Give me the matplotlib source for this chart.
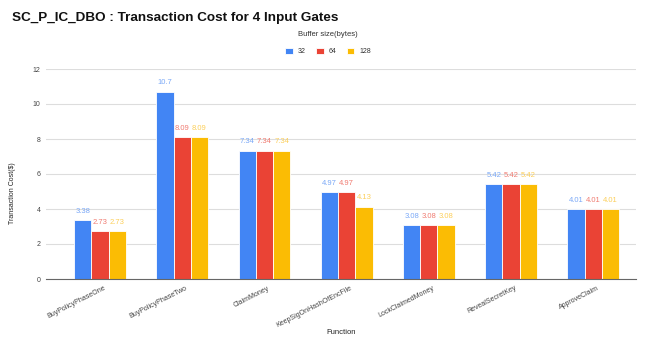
import matplotlib.pyplot as plt
import numpy as np

functions = ["BuyPolicyPhaseOne", "BuyPolicyPhaseTwo", "ClaimMoney", "KeepSigOnHashOfEncFile",
             "LockClaimedMoney", "RevealSecretKey", "ApproveClaim"]
buffer_sizes = ["32", "64", "128"]
cost_32 = [3.38, 10.7, 7.34, 4.97, 3.08, 5.42, 4.01]
cost_64 = [2.73, 8.09, 7.34, 4.97, 3.08, 5.42, 4.01]
cost_128 = [2.73, 8.09, 7.34, 4.13, 3.08, 5.42, 4.01]

colors = ["#4285F4", "#EA4335", "#FBBC04"]
label_colors = ["#7BA9F7", "#F07C72", "#FCCF5A"]

plt.rcParams["font.family"] = ["Liberation Sans", "DejaVu Sans"]

fig = plt.figure(figsize=(6.49, 3.37), dpi=100)
ax = fig.add_axes([46 / 649, 1 - 279 / 337, 590 / 649, 210 / 337])

index = np.arange(len(functions))
bar_width = 0.21
series = [cost_32, cost_64, cost_128]
for i, vals in enumerate(series):
    pos = index + (i - 1) * bar_width
    ax.bar(pos, vals, bar_width, color=colors[i], edgecolor="white", linewidth=0.6,
           label=buffer_sizes[i], zorder=3)
    for x, v in zip(pos, vals):
        ax.text(x, v + 0.3, f"{v:g}", ha="center", va="bottom", fontsize=5.5,
                color=label_colors[i])

ax.set_xlim(-0.657, 6.52)
ax.set_ylim(0, 12)
ax.set_yticks(range(0, 13, 2))
ax.grid(axis="y", color="#dddddd", linewidth=0.8, zorder=0)
for s in ["top", "right", "left"]:
    ax.spines[s].set_visible(False)
ax.spines["bottom"].set_color("#666666")
ax.spines["bottom"].set_zorder(4)
ax.tick_params(axis="both", length=0, labelsize=5, colors="#444444")
ax.tick_params(axis="y", pad=4)
ax.tick_params(axis="x", pad=4)
ax.set_xticks(index + 0.04)
ax.set_xticklabels(functions, rotation=27, ha="right", rotation_mode="anchor")

ax.set_ylabel("Transaction Cost($)", fontsize=5, color="#222222")
ax.yaxis.set_label_coords(-30 / 590, 0.41)

fig.text(341 / 649, 1 - 333 / 337, "Function", fontsize=5.5, color="#222222",
         ha="center", va="center")

fig.text(12 / 649, 1 - 18 / 337, "SC_P_IC_DBO : Transaction Cost for 4 Input Gates",
         fontsize=9.7, fontweight="bold", va="center", ha="left", color="#111111")

leg = fig.legend(loc="center", bbox_to_anchor=(328 / 649, 1 - 43 / 337), ncol=3, frameon=False,
                 title="Buffer size(bytes)", fontsize=5, title_fontsize=5.5,
                 handlelength=1.1, handleheight=1.1, handletextpad=0.7, columnspacing=1.5)
leg._legend_box.sep = 7
leg.get_title().set_color("#333333")
for t in leg.get_texts():
    t.set_color("#333333")

fig.savefig("out.png", dpi=100)
